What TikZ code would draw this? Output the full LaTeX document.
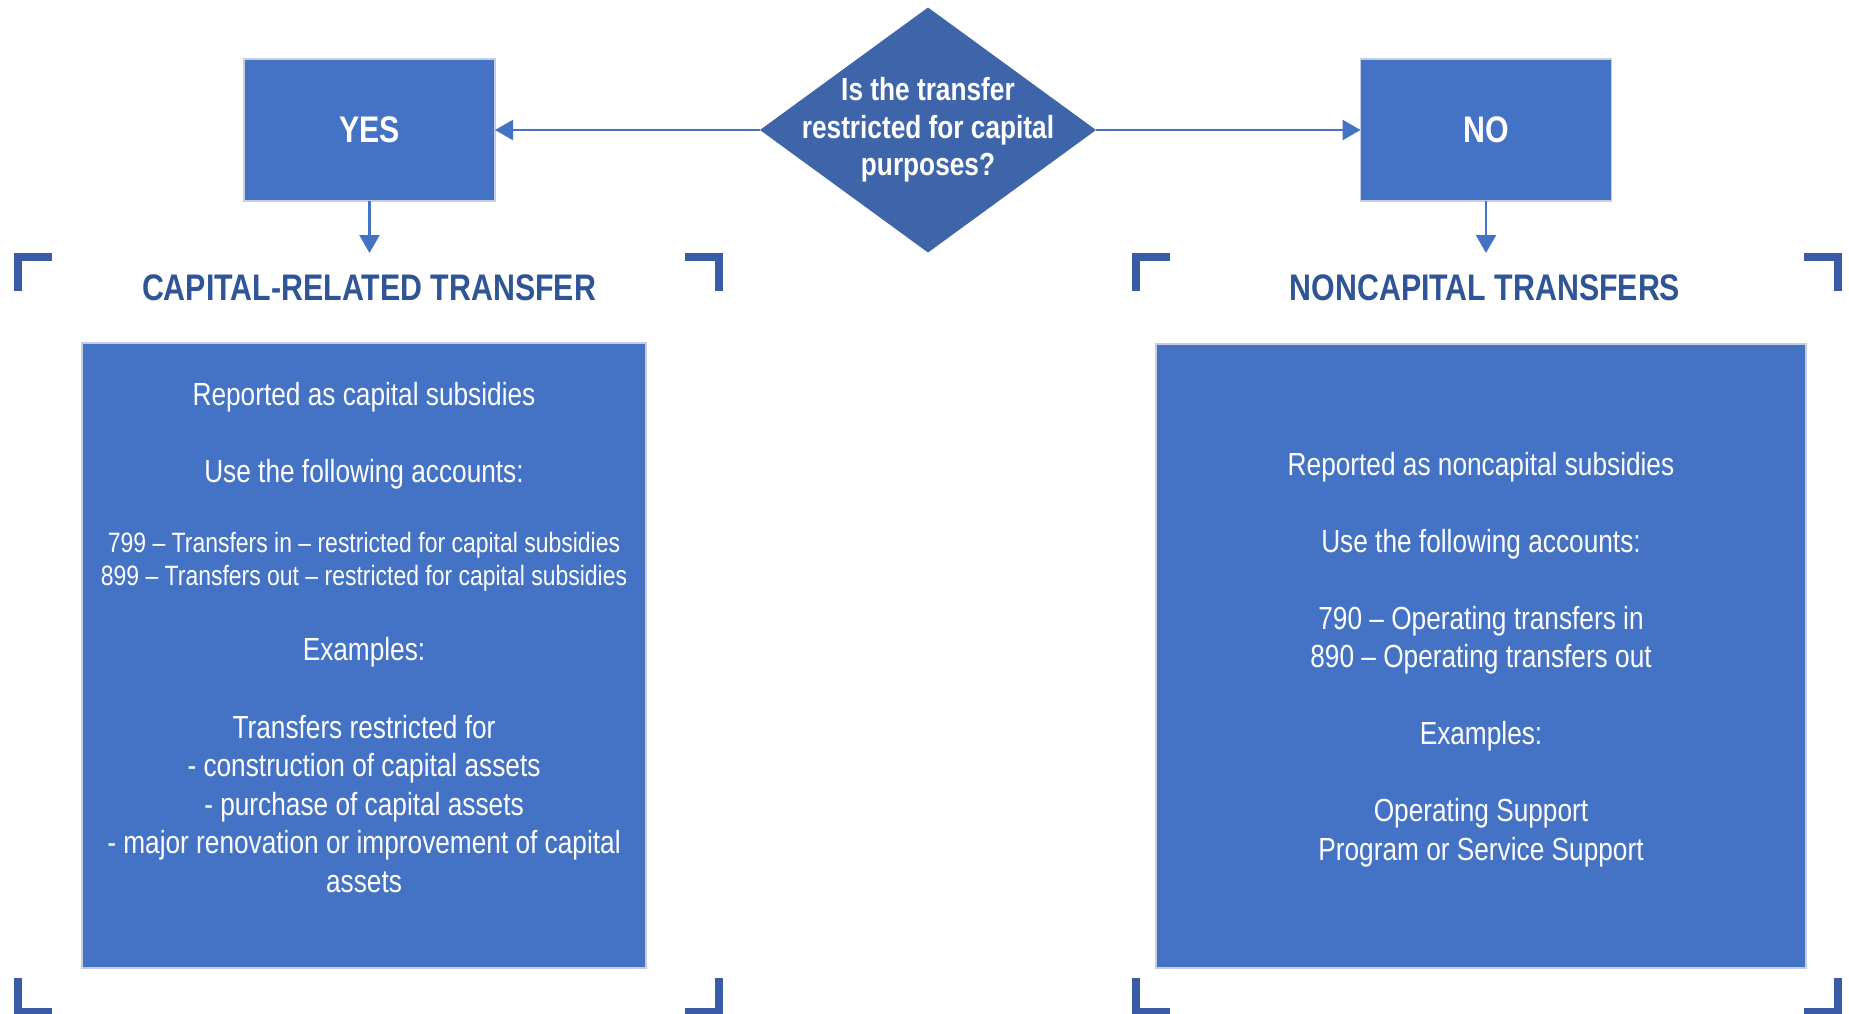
\documentclass[tikz,border=0pt]{standalone}
\usepackage{fontspec}
\setmainfont[FakeStretch=0.82]{Liberation Sans}
\usetikzlibrary{shapes.geometric,arrows.meta}

\definecolor{boxblue}{HTML}{4472C4}
\definecolor{askblue}{HTML}{3E64AA}
\definecolor{headblue}{HTML}{2F5597}
\definecolor{bracketblue}{HTML}{3A5CA6}
\definecolor{edgegray}{HTML}{C5CEDF}

\tikzset{
  every box/.style={rectangle, fill=boxblue, draw=edgegray, line width=1.5pt,
    inner sep=0pt, outer sep=0pt, text=white},
  answer/.style={every box, minimum width=251pt, minimum height=142pt,
    font=\fontsize{37}{44}\selectfont\bfseries},
  decision/.style={diamond, fill=askblue, inner sep=0pt, outer sep=0pt,
    minimum width=336pt, minimum height=245pt},
  asktext/.style={align=center, text=white, inner sep=0pt,
    font=\fontsize{32}{37.5}\selectfont\bfseries},
  heading/.style={anchor=base, text=headblue, inner sep=0pt,
    font=\fontsize{37}{44}\selectfont\bfseries},
  bodyline/.style={anchor=base, text=white, inner sep=0pt,
    font=\fontsize{32}{38.5}\selectfont},
  smallline/.style={anchor=base, text=white, inner sep=0pt,
    font=\fontsize{28}{32.5}\selectfont},
  link/.style={draw=boxblue, line width=2.5pt, -{Triangle[length=18pt, width=20pt]}},
  bracketline/.style={draw=bracketblue, line width=8pt, line join=miter}
}

\begin{document}
\begin{tikzpicture}[x=1pt, y=-1pt]

\useasboundingbox (0,0) rectangle (1849,1013);

\node [decision] (ask) at (928,130) {};
\node [asktext] (ask-text) at (ask.center) {Is the transfer\\restricted for capital\\purposes?};

\node [answer] (yes) at (369.5,130) {YES};
\node [answer] (no) at (1486,130) {NO};

\draw [link] (ask.west) -- (yes.east);
\draw [link] (ask.east) -- (no.west);

\coordinate (yes-end) at (yes.south |- 0,253);
\coordinate (no-end) at (no.south |- 0,253);
\draw [link] (yes.south) -- (yes-end);
\draw [link] (no.south) -- (no-end);

\foreach \cx/\cy/\sx/\sy in {18/257/1/1, 719/257/-1/1, 18/1012/1/-1, 719/1012/-1/-1,
  1136/257/1/1, 1838/257/-1/1, 1136/1012/1/-1, 1838/1012/-1/-1}
  \draw [bracketline] (\cx+34*\sx,\cy) -- (\cx,\cy) -- (\cx,\cy+34*\sy);

\node [heading] (capital-title) at (369,300) {CAPITAL-RELATED TRANSFER};
\node [heading] (noncapital-title) at (1485,300) {NONCAPITAL TRANSFERS};

\node [every box, minimum width=564pt, minimum height=625pt] (capital) at (364,655.5) {};
\node [every box, minimum width=650pt, minimum height=624pt] (noncapital) at (1481,656) {};

\foreach \t/\y/\k [count=\i] in {Reported as capital subsidies/405/bodyline,
  Use the following accounts:/482/bodyline,
  799 – Transfers in – restricted for capital subsidies/552/smallline,
  899 – Transfers out – restricted for capital subsidies/585/smallline,
  Examples:/660/bodyline,
  Transfers restricted for/738/bodyline,
  - construction of capital assets/776.5/bodyline,
  - purchase of capital assets/815/bodyline,
  - major renovation or improvement of capital/853.5/bodyline,
  assets/892/bodyline}
  \node [\k] (capital-\i) at (capital.center |- 0,\y) {\t};

\foreach \t/\y [count=\i] in {Reported as noncapital subsidies/475,
  Use the following accounts:/552,
  790 – Operating transfers in/629,
  890 – Operating transfers out/667.5,
  Examples:/744.5,
  Operating Support/821.5,
  Program or Service Support/860}
  \node [bodyline] (noncapital-\i) at (noncapital.center |- 0,\y) {\t};

\end{tikzpicture}
\end{document}
